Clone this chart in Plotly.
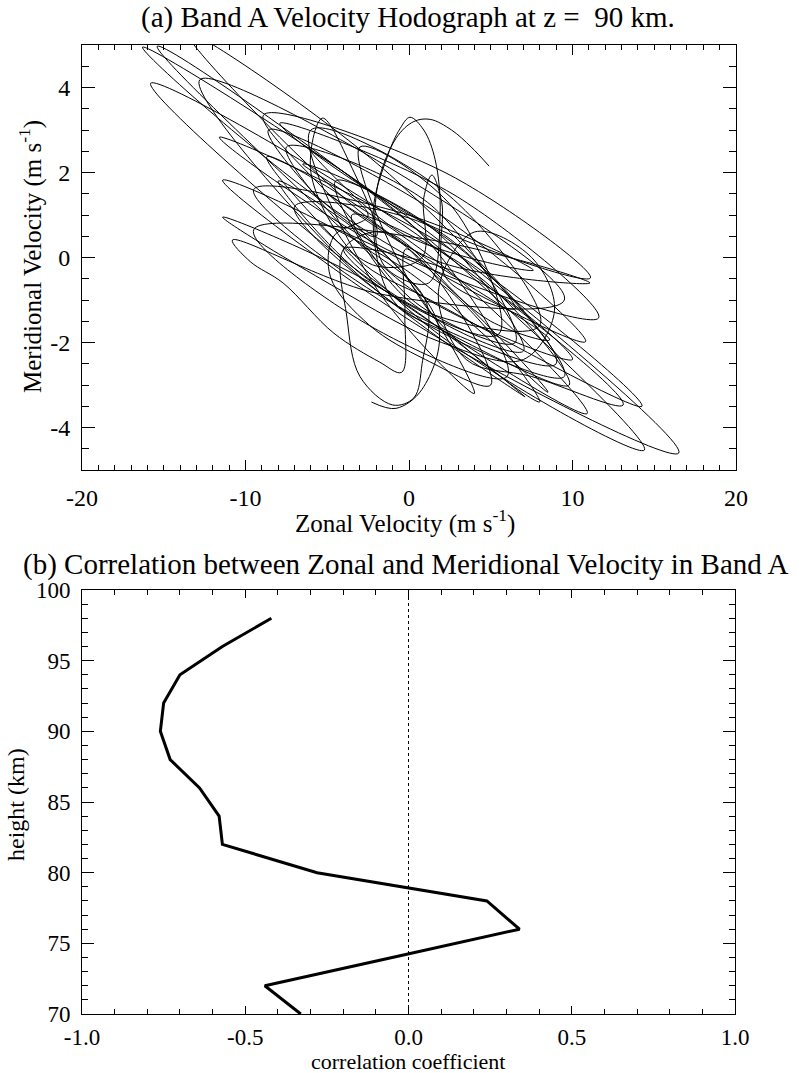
import plotly.graph_objects as go

# ---------------- Data ----------------
# (a) hodograph path (zonal u, meridional v in m/s)
hodo_u = [
    -2.3, -0.8, 0.8, 1.8, -3.5,
    -8.9, 2.2, 11.1, 0.67,
    -7.9, 2.95, 11.6, -1.1,
    -11.6, 2.4, 14.25, 1.3,
    -3.2, -6.0, -5.3, -3.6, -2.0, -5.5,
    -8.6, 2.0, 10.8, -3.85,
    -16.3, 1.0, 16.5, 1.6,
    -11.4, -0.55, 8.5,
    3.0, -1.5, -4.0, -3.8, -3.0, -1.0, 0.3, 0.8, 1.0, -4.2,
    -15.4, 0.4, 14.4, 1.55,
    -8.7, 2.0, 10.9, -3.35,
    -15.8, -0.45, 13.1,
    7.5, 3.5, 1.8, 4.0, 7.5, 8.9, 7.0, 2.0, -4.5,
    -11.4, -1.4, 7.1, -3.95,
    -12.8, -0.85, 9.5, -1.75,
    -10.8, -9.7, -7.7, -4.6, -1.8, -0.45, -0.25, -0.2, 1.0, 5.0,
    8.6, -3.4,
    -13.6, -1.2, 9.0, -1.35,
    -9.5, -0.2, 7.6, -0.3,
    -6.0, 1.1, 6.0, -2.65,
    -9.5, 1.55, 11.07, 1.9,
    -5.0, 1.1, 5.0,
    1.0, -2.4, -4.8, -4.6, -2.5,
    -6.5, 1.55, 7.0, -0.25,
    -4.5, 3.6, 9.5, 0.15,
    -7.0, 1.25, 6.5,
    2.3, 2.0, 1.4, 0.9, 0.8, -2.0,
    -5.5, 2.35, 8.0, 1.0,
    -3.0, 2.75, 5.5, -2.35,
    -8.0, -0.9, 4.0, -2.1,
    -6.0, 2.5, 8.0, 0.9,
    -4.0, 4.1, 10.0, -0.25,
    -7.5, 1.35, 6.5, 0.4,
    -3.5, 4.25, 9.8, 2.5,
    -1.0, -2.2, -1.3, -0.55, 0.06, 0.9, 1.6, 1.9, 1.2, -1.5, -2.0, -0.8,
    0.3, 1.3, 2.6, 3.8, 4.9,
]
hodo_v = [
    -3.40, -3.55, -3.1, -1.6, 0.9,
    3.35, 2.0, -0.48, 0.87,
    3.16, 1.43, -1.42, 0.14,
    2.83, 0.22, -3.5, -1.0,
    0.0, 2.0, 3.28, 2.2, 0.5, 1.4,
    3.0, 0.98, -1.98, 0.93,
    4.95, 0.65, -4.6, -1.85,
    1.82, -0.2, -3.17,
    -0.9, 0.6, 0.2, -1.4, -2.8, -3.47, -3.3, -2.5, -1.0, 0.7,
    4.97, 0.69, -4.53, -1.73,
    2.37, -0.18, -3.67, -0.25,
    4.1, 0.79, -3.47,
    -2.8, -2.4, -0.8, 0.6, 0.0, -1.24, -2.4, -2.0, -0.7,
    0.95, -0.8, -3.28, -0.11,
    4.18, 2.03, -1.0, -0.86,
    0.41, -0.1, -0.6, -1.78, -2.46, -2.7, -1.3, 0.2, -0.2, -1.5,
    -1.94, 1.21,
    5.3, 1.96, -2.5, -1.0,
    1.6, 1.02, -0.3, 0.54,
    2.5, 0.41, -2.8, -1.55,
    0.65, 0.4, -0.6, -0.11,
    1.5, -0.2, -3.0,
    -2.4, -1.6, -0.46, 0.5, 1.0,
    2.2, 0.65, -2.2, -0.94,
    1.8, 0.06, -2.8, -1.36,
    1.2, 0.74, -1.2,
    -0.5, 1.3, 1.94, 1.4, 0.0, -0.2,
    0.8, -0.74, -3.4, -1.14,
    2.6, 1.14, -1.8, -0.56,
    1.8, -0.14, -3.2, -0.66,
    3.0, 1.44, -1.6, -1.26,
    0.2, -0.54, -2.4, -0.64,
    2.6, 1.23, -2.0, -1.06,
    1.0, -0.44, -3.0, -1.8,
    -1.0, 1.0, 2.4, 3.03, 3.3, 3.0, 2.3, 1.0, -0.6, -0.2, 1.5, 2.8,
    3.2, 3.25, 3.0, 2.6, 2.15,
]

# (b) correlation profile
heights_km = [70, 72, 74, 76, 78, 80, 82, 84, 86, 88, 90, 92, 94, 96, 98]
corr_coef = [-0.33, -0.44, -0.05, 0.34, 0.24, -0.28, -0.57, -0.58, -0.64,
             -0.73, -0.76, -0.75, -0.70, -0.57, -0.42]

# tick labels
a_xticks = [-20, -10, 0, 10, 20]
a_xtext = ["-20", "-10", "0", "10", "20"]
a_yticks = [-4, -2, 0, 2, 4]
a_ytext = ["-4", "-2", "0", "2", "4"]
b_xticks = [-1.0, -0.5, 0.0, 0.5, 1.0]
b_xtext = ["-1.0", "-0.5", "0.0", "0.5", "1.0"]
b_yticks = [70, 75, 80, 85, 90, 95, 100]
b_ytext = ["70", "75", "80", "85", "90", "95", "100"]

FONT = "Liberation Serif"
W, H = 810, 1073

fig = go.Figure()

fig.add_trace(go.Scatter(
    x=hodo_u, y=hodo_v, mode="lines",
    line=dict(color="black", width=1, shape="spline", smoothing=1.0),
    xaxis="x", yaxis="y", showlegend=False, hoverinfo="skip"))

fig.add_trace(go.Scatter(
    x=[0, 0], y=[70, 100], mode="lines",
    line=dict(color="black", width=1, dash="dot"),
    xaxis="x2", yaxis="y2", showlegend=False, hoverinfo="skip"))

fig.add_trace(go.Scatter(
    x=corr_coef, y=heights_km, mode="lines",
    line=dict(color="black", width=3),
    xaxis="x2", yaxis="y2", showlegend=False, hoverinfo="skip"))

def ax(domain, rng, tv, tt, major_len, minor_dtick, minor_len, anchor,
       standoff=6, fsize=24):
    return dict(
        domain=domain, range=rng, anchor=anchor, automargin=False,
        tickvals=tv, ticktext=tt, ticks="inside", ticklen=major_len,
        tickcolor="black", tickwidth=1,
        minor=dict(dtick=minor_dtick, ticks="inside", ticklen=minor_len,
                   tickcolor="black", tickwidth=1, showgrid=False),
        showline=True, linecolor="black", linewidth=1, mirror="ticks",
        showgrid=False, zeroline=False,
        tickfont=dict(family=FONT, size=fsize, color="black"),
        ticklabelstandoff=standoff,
    )

ax_dom_a_x = [82 / W, 736 / W]
ax_dom_a_y = [1 - 470 / H, 1 - 45 / H]
ax_dom_b_x = [82 / W, 735 / W]
ax_dom_b_y = [1 - 1014 / H, 1 - 590 / H]

fig.update_layout(
    width=W, height=H,
    margin=dict(l=0, r=0, t=0, b=0, autoexpand=False),
    paper_bgcolor="white", plot_bgcolor="white",
    xaxis=ax(ax_dom_a_x, [-20, 20], a_xticks, a_xtext, 10, 1, 5, "y"),
    yaxis=ax(ax_dom_a_y, [-5, 5], a_yticks, a_ytext, 13, 0.5, 7, "x"),
    xaxis2=ax(ax_dom_b_x, [-1, 1], b_xticks, b_xtext, 8, 0.1, 5, "y2",
              standoff=2, fsize=23),
    yaxis2=ax(ax_dom_b_y, [70, 100], b_yticks, b_ytext, 12, 1, 6, "x2",
              fsize=23),
)

def txt(x, y, s, size=24, angle=0):
    fig.add_annotation(x=x / W, y=1 - y / H, xref="paper", yref="paper",
                       text=s, showarrow=False, textangle=angle,
                       xanchor="center", yanchor="middle",
                       font=dict(family=FONT, size=size, color="black"))

txt(408, 18, "(a) Band A Velocity Hodograph at z =  90 km.", size=29)
txt(405, 521, "Zonal Velocity (m s<sup>-1</sup>)", size=25)
txt(30, 257, "Meridional Velocity (m s<sup>-1</sup>)", size=25, angle=-90)
txt(405, 564, "(b) Correlation between Zonal and Meridional Velocity in Band A", size=29)
txt(408, 1061, "correlation coefficient", size=22)
txt(16, 805, "height (km)", size=24, angle=-90)

fig.write_html("out.html")
